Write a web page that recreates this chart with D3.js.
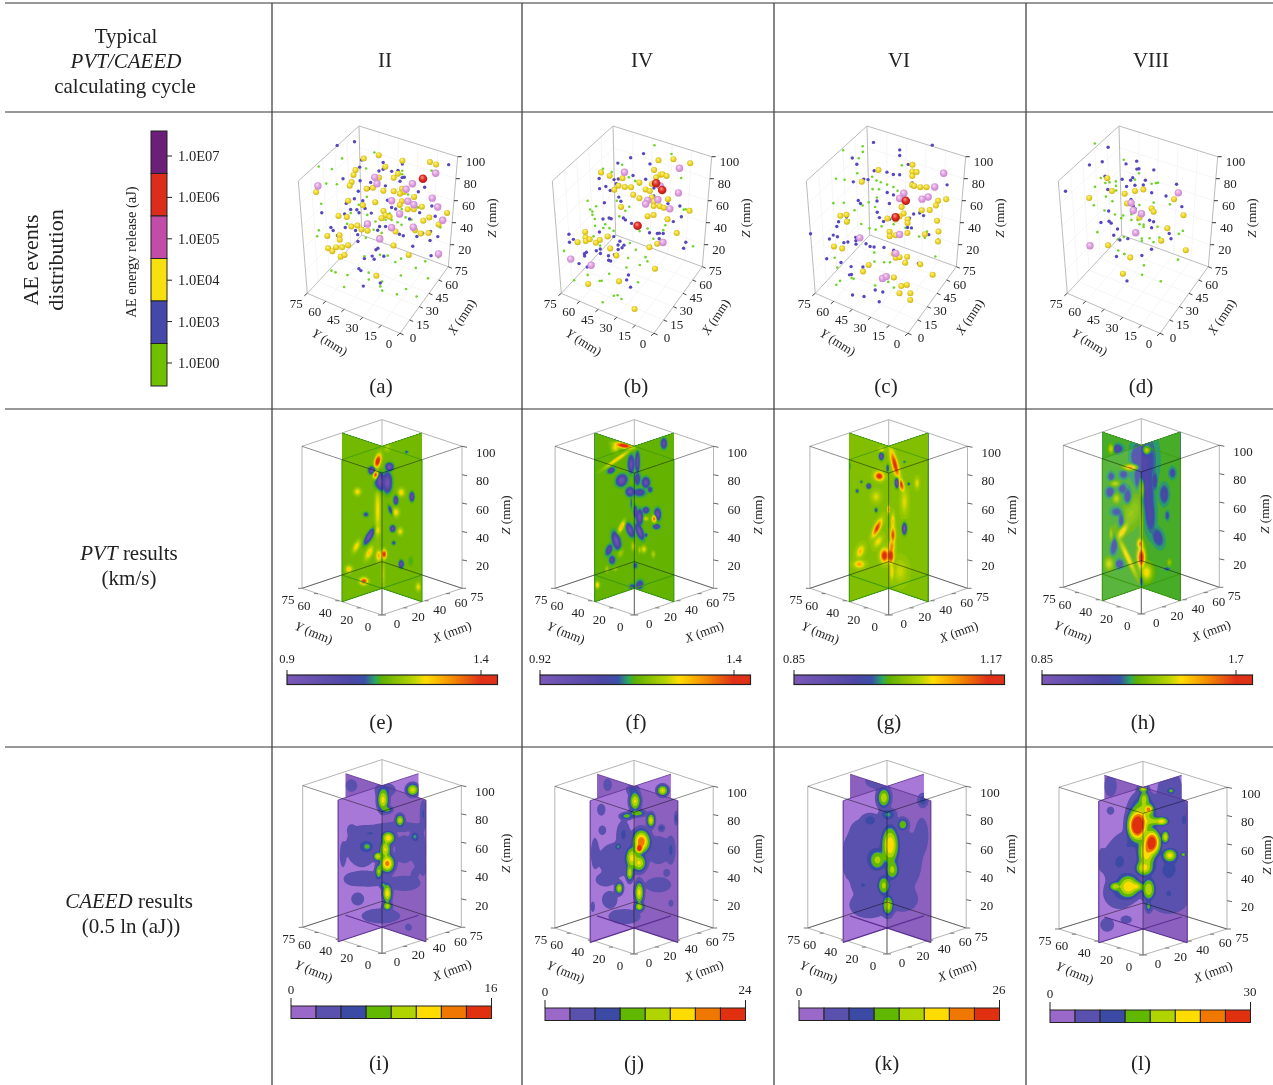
<!DOCTYPE html>
<html>
<head>
<meta charset="utf-8">
<script src="https://cdn.jsdelivr.net/npm/d3@7"></script>
<style>
body { margin: 0; background: #fff; }
svg { display: block; font-family: "Liberation Serif", serif; fill: #222; }
</style>
</head>
<body>
<svg id="chart" width="1273" height="1085"></svg>
<script>
// AE events as [x mm, z mm]. Depth can't be read from a projected picture,
// so every event is taken to sit on the diagonal plane y = 75 - x of the box.
const greenA = [[10,110],[21,114],[36,115],[16,106],[32,102],[63,91],[13,94],[18,92],[10,77],[28,71],[32,77],[24,65],[36,85],[44,64],[49,61],[49,95],[49,92],[52,73],[57,60],[7,49],[8,54],[13,17],[15,15],[21,11],[19,1],[30,25],[32,10],[32,4],[39,0],[38,-4],[39,-8],[47,-14],[49,2],[52,-11],[58,-20],[64,-6],[57,6],[69,11],[62,10],[49,17],[46,15],[38,24],[42,22],[41,54],[47,50],[49,47],[35,47],[39,43],[51,53],[54,50],[36,54],[32,61],[29,49],[22,56],[31,41],[43,59],[44,53],[64,28],[69,38]];
const blueA = [[19,126],[27,127],[71,94],[30,110],[40,105],[49,101],[29,104],[40,99],[38,98],[44,96],[47,96],[49,89],[50,89],[21,96],[29,92],[34,89],[36,92],[48,86],[41,84],[60,77],[57,74],[33,84],[28,83],[26,77],[30,74],[22,74],[31,67],[27,67],[28,64],[34,62],[42,71],[44,64],[24,68],[10,69],[21,65],[46,62],[53,51],[64,59],[66,49],[58,55],[38,49],[41,48],[37,46],[31,52],[14,55],[15,52],[21,53],[26,49],[27,45],[27,39],[17,47],[37,30],[36,29],[34,24],[35,21],[40,22],[48,39],[50,37],[57,34],[60,36],[68,30],[64,36],[64,28],[55,26],[65,14],[27,15],[28,13],[29,-1],[38,-1],[30,23]];
const yellowA = [[31,111],[38,112],[49,104],[62,99],[65,96],[41,101],[27,102],[26,98],[38,92],[45,90],[47,93],[25,92],[24,89],[8,88],[35,84],[32,84],[40,80],[45,78],[49,79],[50,76],[48,75],[23,76],[30,70],[36,71],[49,68],[48,65],[55,70],[59,60],[52,60],[55,59],[72,50],[40,62],[41,58],[18,64],[22,62],[39,56],[43,56],[63,49],[60,47],[68,41],[24,53],[27,53],[29,49],[32,47],[12,48],[18,47],[18,43],[22,37],[12,37],[14,34],[16,37],[19,36],[18,28],[20,29],[36,6],[45,30],[53,19],[59,36],[63,35],[56,40],[46,42],[38,39]];
const pinkA = [[9,93],[36,93],[37,87],[54,82],[65,88],[51,78],[64,66],[44,70],[52,67],[55,63],[67,57],[48,57],[70,44],[32,53],[44,46],[55,43],[38,38],[69,14]];
const redA = [[59,85]];

const greenB = [[48,118],[56,108],[33,105],[28,100],[24,104],[36,93],[39,89],[41,85],[61,85],[16,78],[17,70],[18,68],[20,72],[18,65],[19,61],[30,74],[36,67],[34,64],[31,60],[24,55],[23,52],[26,51],[28,48],[19,55],[54,45],[53,41],[41,44],[48,35],[45,45],[64,56],[63,56],[69,21],[3,37],[18,46],[21,37],[36,35],[39,28],[41,14],[35,22],[34,14],[25,11],[14,13],[20,6],[21,6],[7,10],[27,-9],[29,-9],[31,-13],[21,-13],[40,-1],[45,16],[44,20]];
const blueB = [[37,110],[43,112],[31,107],[46,102],[22,96],[29,93],[30,89],[31,93],[38,94],[25,88],[22,87],[27,84],[31,77],[32,73],[24,74],[44,89],[48,80],[48,73],[55,64],[61,60],[62,50],[58,47],[33,58],[34,56],[37,52],[46,41],[50,39],[51,39],[51,34],[53,38],[65,26],[64,21],[23,60],[26,60],[27,59],[21,49],[6,51],[8,46],[6,44],[13,32],[14,33],[10,24],[14,20],[19,33],[21,34],[25,27],[25,23],[26,22],[28,27],[31,38],[30,35],[30,31],[33,34],[32,32],[28,43],[34,3],[36,-4],[35,7],[13,30],[21,30]];
const yellowB = [[50,104],[57,103],[65,97],[48,96],[49,89],[51,91],[52,91],[54,89],[47,84],[23,101],[27,97],[33,93],[29,84],[31,87],[34,85],[37,84],[38,77],[41,73],[44,80],[46,78],[47,72],[48,68],[48,64],[51,63],[53,61],[55,68],[32,68],[45,56],[48,56],[55,50],[66,54],[60,36],[50,30],[46,28],[49,8],[14,51],[14,46],[14,43],[10,43],[16,44],[19,40],[21,42],[25,44],[26,33],[29,26],[14,5],[30,3],[38,-24],[41,87]];
const pinkB = [[34,98],[60,94],[60,72],[45,70],[44,67],[50,69],[56,59],[53,30],[6,29],[16,21],[51,81]];
const redB = [[49,84],[52,77],[40,49]];

const greenC = [[27,123],[18,122],[27,118],[25,113],[14,98],[18,96],[24,100],[31,95],[33,91],[35,89],[38,86],[41,83],[43,79],[45,101],[31,84],[34,83],[29,73],[17,76],[22,68],[12,77],[26,71],[32,68],[33,76],[19,60],[25,55],[29,50],[32,48],[35,50],[41,50],[47,45],[54,35],[58,38],[11,29],[12,20],[13,8],[11,5],[19,9],[20,8],[31,20],[36,18],[39,17],[31,28],[63,14],[31,-1],[41,-6],[57,33],[38,0],[64,29]];
const blueC = [[32,125],[59,115],[44,115],[44,110],[22,114],[24,108],[32,100],[48,101],[27,94],[29,93],[22,93],[38,97],[41,94],[44,93],[50,84],[67,77],[24,76],[25,73],[33,73],[38,79],[41,76],[39,69],[33,63],[34,58],[13,56],[18,63],[14,60],[0,53],[11,49],[13,47],[9,46],[16,41],[18,41],[22,44],[22,41],[22,38],[27,37],[29,34],[31,33],[36,31],[36,54],[39,55],[49,53],[51,56],[54,56],[56,53],[48,45],[50,44],[59,35],[7,29],[14,24],[19,19],[19,12],[25,17],[18,12],[31,-5],[35,-8],[19,-6],[25,-9],[33,-16],[54,11],[41,27]];
const yellowC = [[50,100],[50,94],[52,93],[50,90],[34,100],[26,92],[50,82],[51,81],[54,79],[57,78],[63,64],[62,60],[67,64],[15,65],[18,65],[18,59],[11,39],[15,36],[45,64],[46,58],[55,58],[59,57],[44,56],[42,54],[38,56],[48,52],[48,49],[63,46],[64,36],[39,44],[39,40],[42,40],[48,40],[57,36],[64,27],[41,24],[42,20],[44,20],[48,19],[47,14],[55,10],[28,18],[25,13],[41,3],[45,-6],[48,-6],[50,-14],[44,-12],[50,-20],[62,-2]];
const pinkC = [[65,88],[61,77],[58,69],[55,68],[46,76],[44,72],[24,43],[44,40],[42,24],[35,4],[37,5]];
const redC = [[47,69],[42,56]];

const greenD = [[18,128],[31,110],[38,96],[20,97],[17,90],[22,92],[24,92],[27,92],[27,88],[27,84],[36,91],[46,85],[44,85],[47,85],[22,80],[25,75],[16,74],[21,68],[26,63],[30,61],[29,59],[34,61],[34,56],[37,55],[38,51],[40,50],[47,46],[17,50],[27,41],[30,42],[39,38],[39,36],[43,37],[45,33],[58,36],[60,38],[48,36],[27,31],[30,27],[30,27],[58,13],[40,14],[39,6],[49,-3],[53,64],[45,68],[38,68],[40,48]];
const blueD = [[24,123],[15,110],[21,111],[22,98],[3,90],[32,106],[37,107],[37,100],[38,100],[45,97],[35,93],[34,91],[30,93],[41,89],[36,86],[40,85],[56,81],[23,86],[32,86],[44,77],[51,72],[59,60],[34,74],[35,68],[36,65],[23,67],[19,58],[23,58],[24,56],[27,50],[43,53],[45,51],[44,46],[53,38],[54,33],[25,45],[28,40],[32,40],[26,26],[39,23],[44,27],[31,3]];
const yellowD = [[23,96],[25,84],[31,80],[36,81],[40,81],[14,81],[55,68],[32,71],[44,63],[45,60],[38,57],[60,52],[52,43],[49,33],[62,20],[22,37],[33,23],[29,10]];
const pinkD = [[57,73],[34,71],[35,64],[39,60],[36,44],[13,39]];
const redD = [];

// hot spots read off the sliced planes: [across mm, z mm, half width, half height, level, tilt deg]
// PVT levels are offsets from the plane's background on the colour bar
const blobsE = [[35.5,89.5,1,3.8,.55,-15],[34.5,80,.9,2.4,.5],[33,83,1.3,2,-.45],[41,85.5,1.3,2,-.45],[36.5,75,1.6,4.5,-.45],[40,74.5,1.5,5,-.45],[26,68,1.2,2,.2],[35.5,55,1,14,.18],[46.5,67.5,1.2,2.2,.2],[44,62,.8,2.4,-.35],[51.5,64.5,.8,2.4,-.4],[41.5,55,.7,3,-.2,20],[44,53.5,1.2,2.4,.2],[30,52,1,1.4,-.18],[42.5,42,.9,1.7,-.4],[46,40,1,2,.18],[35.5,41,1,3,.18],[31.5,36.5,1,4.5,-.42,-30],[25.5,29.5,1,3.5,.2,-25],[31.5,25,1.1,4,.22,-25],[36,23,1,3,.26],[38.5,24,.8,2.4,.5],[46.5,17,.8,2,-.4],[22,13.5,1.2,1.9,.22],[29,5,1.4,1.8,.45],[54.5,1,.9,2.2,.18],[43,32,.7,1.2,-.2],[51,19,.9,3,-.06],[40,99,1,2,.12],[49,96,.6,.8,-.2],[38,10,.7,8,.1]];
const blobsF = [[32.5,100.5,3.4,1.4,.55,-10],[28.5,99,1.5,2.5,.2],[29.5,91,6,1,.25,35],[51.5,102,.9,2.4,-.35],[36,87.5,1,4.2,-.35],[39,89,.7,5,-.35],[26.5,83,1.3,1.4,-.25,30],[31.5,76,1.6,2.8,-.42,-30],[35.5,68,1.3,2.1,-.38],[40,67.5,2,2,-.2],[43,74.5,1.2,2.4,-.38],[45,69.5,.8,1.4,-.22],[39,77,1,3.3,-.2],[36,60,.3,3.5,-.12],[38,54,.5,2.8,-.35],[40,50,1,3.5,-.42],[43,55,1.1,1.6,-.25],[48.5,52,1,2.8,-.42],[47,49,.8,1.9,.45],[48,43.5,1.1,1.2,-.3],[43,49,.9,1.2,.18],[31.5,43.5,.8,3.8,.28,-25],[35.5,41,1,3.3,-.4,20],[40,40,1,3.8,-.42,20],[43,37.5,.5,1,-.2],[29,33.5,1.2,4.2,-.42,15],[25.5,27,1,2.8,-.25,-20],[31,25,1,2.4,.12,-20],[27,20,1,2,-.25],[37,29.5,.7,2.4,.15],[40,27,.5,1.9,.15],[42,27.5,1,2,.2],[46.5,24,.7,2,.14],[20,2.4,.8,1.9,.24],[40,2.4,1.2,2.4,-.22,-20],[36.5,1,1,1.4,-.18],[38,16,.6,1.4,-.2],[24.5,13.5,.6,2,.12],[28.5,13.5,1,1,.1]];
const blobsG = [[40.5,87,1,8,.45,15],[43.5,73,.8,3.5,.45,15],[34,93,.8,2,-.5],[34,97.5,1,1.2,.18],[33,79,1.6,2.1,.48,-20],[41.5,74.5,.8,2.8,-.5],[28,72,.8,1.4,-.45],[22.5,68.5,.6,1.2,-.25],[24.5,75,.5,1,-.2],[37,84.5,.4,2,-.4],[45,89,.6,.7,-.2],[47,73.5,.6,1,-.22],[51,74,.8,2.8,.14],[31.5,55,.6,1.4,-.25],[37.5,55.5,.3,2,.4],[45,42,.8,3,-.5],[32,42.5,1,5,.42,-25],[39.5,47,.6,4.2,.22],[39.5,37.5,.8,4.7,.4],[39,29.5,1,3.5,.3],[35.5,23,1.4,3.5,.5],[38.5,23,1.1,4.2,.5],[39,12,.6,4.7,.2],[24,26,1.3,3.5,.2,-20],[23.5,17,1.9,2,.24],[32.5,33,1.3,3.5,.15,-30],[45,61,1.3,7,.12],[31.5,64.5,1.6,2.8,.12],[43,12,2.4,6,.1],[19,86,.3,1.9,-.2]];
const blobsH = [[39,89.5,3.5,11.8,-.17],[40,70.5,2.2,16.5,-.18,5],[41.5,53,1.6,9.4,-.17,5],[32.5,84.5,2.5,1.4,.35],[34.5,92,1.3,4.7,-.14],[26,97.5,1.6,2,-.18],[23,97.5,1,2.4,.2],[40,96.5,1.3,2.4,.3],[23,78,1,2,-.12],[29,79.5,1.3,2,-.12],[35.5,77.5,.8,5.9,-.12],[28.5,69.5,1.3,2.4,-.12],[22.5,67,1.3,2.4,-.15],[31,63.5,1.3,4.2,-.14],[26,53,2,2.4,-.11],[28,47,1.3,5.2,-.15],[25.5,62.5,1.3,2.4,.18],[25,73,1.6,1.4,.18],[38,69.5,1,5.9,.2],[48.5,65.5,1.3,4.2,-.17],[44,75,.8,4.2,-.15],[52.5,80.5,1,2.4,-.13],[50,50.5,.6,2,-.13],[45.5,35,1.6,4.2,-.15,15],[28.5,39.5,1.3,5.2,.3,-30],[32.5,52,4,11.8,.1,-30],[24.5,29.5,1,4.7,-.15,-10],[23,37.5,.6,3.3,.15],[22,16.5,1.6,3.3,.2],[27,16.5,1.3,2,-.14],[31,21,1,11.8,.26,25],[37.5,21,1.4,5.9,.55],[37,30.5,1.1,2.8,.4],[37.5,42.5,.5,14,.15],[40,10.5,2.2,4.7,.25],[37.5,4.7,.5,2.8,-.15],[51,17.5,.8,2,.12],[50,13,.8,.7,-.12]];
const blobsI = [[38,90,2,6,.62],[40,83,2,2,.4],[46,75.5,1.6,3.3,.55],[52,97,2.2,3.3,.6],[40.5,63,2.4,3.5,.65],[39,55,2,5,.6],[35.5,50,1.6,2.4,.6],[40,45,2.5,4.7,.75],[36,39.5,1.3,4.2,.5],[38,30,1.3,2.4,.35],[40,24,1.6,5,.65],[40,15,1.6,2.4,.55],[37,8,6,3.5,.22],[30.5,57,2.5,3.3,.35],[28,57,5,9.5,.22],[33,66.5,5,2.5,.22],[23,69,1.3,2.4,.2],[19,51,1,6,.2],[24,34,3,3,.2],[26,20,2,3,.22],[31,34,6,3.5,.22],[48,31,5,3.5,.22],[53,64,1.6,3,.35],[48,55,3,7,.2],[45,71,8,2.4,.2],[57,80,1,6,.25],[55,55,2.2,9.5,.22],[23,100,2.2,3.5,.18],[39,97,3,3,.25],[50,0,1.3,2,.18],[53,38,1.3,2.4,.18],[57,41,1,3.5,.18]];
const blobsJ = [[38,89.5,2,5,.6],[39,81,3,2,.45],[34,79,2.5,2,.4],[45.5,76,1.4,3.8,.6],[51,97,2,3,.6],[41,61,3,6,.8],[40,56,1.3,2.4,.98],[36.5,49.5,2.2,6,.62],[40,46,2.5,4.7,.6],[35.5,39,1.3,4.7,.55],[40,25,1.6,6,.62],[40,15,1.6,2.4,.55],[30.5,28,1.4,3.3,.55],[30,57.5,1.3,2,.35],[32.5,66,2,6,.25],[29,48,5.5,8,.22],[24,34,3,3,.22],[26,20,2.4,4,.22],[33,8,5,3.5,.22],[22,83.5,1.4,3,.2],[22.5,69,1.3,2.4,.2],[19,53,1.2,7,.22],[49,30.5,4,3.5,.22],[49,55,4,7,.2],[55,55,1.3,6,.25],[50.5,70.5,1.3,2,.3],[57.5,77.5,.8,4,.3],[25,101,1.6,3.5,.18],[37,97.5,2.4,3,.3],[55,17.5,1,2,.18],[53,39,1.3,2,.18],[18,15,.8,3,.18]];
const blobsK = [[36,92,2.4,5.5,.55],[38,80,3,3.5,.35],[29.5,76,3,3.5,.3],[45,73,2,3.5,.45],[39,58.5,3,10,.68],[33,48,3,5.5,.5],[40,41,2.4,5.5,.5],[36,30,2.4,5.5,.5],[38,16,2,5.5,.55],[29,51.5,8,17,.22],[47,48,5,14,.2],[54,65.5,2,8,.22],[29,16,6,6,.22],[45,20,5,6,.2],[54.5,90,2,4,.3],[24,69,2,3.5,.2],[26,30,3,4,.22],[19,48,1.4,7,.2],[33,104,3.5,3.5,.25]];
const blobsL = [[35,73,3,7.5,1.1],[37.5,80,4.5,10.6,.55],[40,84.5,1.5,2.4,.75],[46,76,2.2,2.4,.6],[42.5,76,4.5,2.4,.5],[41.5,61,2.7,6.6,.98],[39,54,3,9.5,.65],[38,43,3,4.3,.6],[47.5,65,1.3,3.5,.6],[49.5,52,2.4,3.5,.62],[55.5,52.5,.8,1.2,.5],[50,97.5,1.2,1.4,.4],[37.5,99,1.8,2,.55],[38,92,1.8,4.7,.5],[31,30,3.7,6,.68],[25,30,2,2.4,.55],[35,30,2.2,2.8,.55],[40,28,2.2,6,.58],[40,16,1.2,3.5,.38],[27,47,5,9.5,.24],[27,25.5,4.5,7,.24],[49,42,7.5,12,.24],[49,23,6,8,.22],[54,70,3,14,.22],[31.5,60,4.5,6,.22],[49.5,96,3.7,10.6,.22],[23,101,2.2,6,.18],[23,83.5,1.2,2,.2],[19,49,1,4.7,.22],[21.5,3,2.2,3.5,.2],[30,6.6,1.8,2,.2],[56,77.5,.9,3.5,.24]];

const pvtBase = [.49, .46, .52, .43];

const columns = ["II", "IV", "VI", "VIII"];
const panelLetters = ["a","b","c","d","e","f","g","h","i","j","k","l"];
const aeLabels = ["1.0E07","1.0E06","1.0E05","1.0E04","1.0E03","1.0E00"];
const aeBands = ["#6b1f78","#dc2c1c","#c24da8","#f8e010","#4448a8","#70c000"];
const xyTicksAe = [0,15,30,45,60,75];
const xyTicksSlice = [0,20,40,60,75];
const zTicks = [20,40,60,80,100];
const pvtMin = ["0.9","0.92","0.85","0.85"];
const pvtMax = ["1.4","1.4","1.17","1.7"];
const caeedMax = ["16","24","26","30"];
const pvtStops = [0,.3,.37,.42,.45,.6,.66,.78,.92,1];
const pvtColors = ["#7b58b8","#4c46a5","#3a50a8","#2aa860","#5cb000","#b8d400","#ffdd00","#f59000","#e03018","#e03018"];
const caeedColors = ["#9a68c8","#5a50ad","#3a4aa5","#60b800","#b0d400","#ffdc00","#f07800","#e03010"];
const caeedLevels = [.125,.25,.345,.375,.5,.625,.75,.875];
const caeedFills = ["#5a50ad","#3a4aa5","#2a8ea0","#60b800","#b0d400","#ffdc00","#f07800","#e03010"];

// layout
const svg = d3.select("#chart");
const defs = svg.append("defs");
const colX = [272, 522, 774, 1026];
const rowY = [3, 112, 409, 747];
const aeDx = [0, 254, 508, 760];
const aeCorners = { F:[400,333.3], R:[448.3,266.7], L:[307.3,293.3], B:[361.7,235], Ft:[396.5,212], Rt:[457.7,156.7], Lt:[298.3,181], Bt:[359,126] };
const pvtFx = [382, 634.3, 888.7, 1141.3], pvtFy = [615, 615, 615, 614], pvtHalf = [80, 79.2, 78.8, 78];
const caeedFx = [382, 634, 887, 1143], caeedFy = [953.3, 954, 954, 955], caeedHalf = [79.3, 79.2, 79.2, 84];
const planeEnds = [[0,75],[0,75],[0,75],[0,75]];
const caeedEnds = [[-4,72],[-4,72.5],[-4,72.5],[-2,72]];

// box position as a blend of its eight corners
const sx = d3.scaleLinear().domain([0,75]).range([0,1]);
const sz = d3.scaleLinear().domain([0,100]).range([0,1]);
function project(c, x, y, z) {
    const t = sx(x), s = sx(y), h = sz(z);
    const mix = i =>
        (1-h)*((1-t)*(1-s)*c.F[i] + t*(1-s)*c.R[i] + (1-t)*s*c.L[i] + t*s*c.B[i]) +
        h*((1-t)*(1-s)*c.Ft[i] + t*(1-s)*c.Rt[i] + (1-t)*s*c.Lt[i] + t*s*c.Bt[i]);
    return [mix(0), mix(1)];
}
const shifted = (c, dx) => Object.fromEntries(Object.entries(c).map(([k,v]) => [k, [v[0]+dx, v[1]]]));
function sliceBox(fx, fy, half, vy, up) {
    return { F:[fx,fy], R:[fx+half,fy-vy], L:[fx-half,fy-vy], B:[fx,fy-2*vy],
             Ft:[fx,fy-up], Rt:[fx+half,fy-vy-up], Lt:[fx-half,fy-vy-up], Bt:[fx,fy-2*vy-up] };
}
const line = d3.line();

function edge(g, a, b, stroke, w, blend) {
    const p = g.append("path").attr("d", line([a,b])).attr("fill","none")
        .attr("stroke", stroke).attr("stroke-width", w || 1);
    if (blend) p.style("mix-blend-mode","multiply");
    return p;
}
function txt(g, x, y, s, size, anchor) {
    return g.append("text").attr("x",x).attr("y",y).attr("font-size",size)
        .attr("text-anchor",anchor || "middle").attr("dy",".35em").text(s);
}
function mmLabel(g, x, y, letter, rot, size) {
    const t = g.append("text").attr("transform",`translate(${x},${y}) rotate(${rot})`)
        .attr("font-size",size || 13).attr("text-anchor","middle").attr("dy",".35em");
    t.append("tspan").attr("font-style","italic").text(letter);
    t.append("tspan").text(" (mm)");
}

// table
rowY.forEach(y => edge(svg, [5,y], [1273,y], "#333", 1.2));
colX.forEach(x => edge(svg, [x,3], [x,1085], "#444", 1.3));

const head = svg.append("g");
txt(head, 126, 36, "Typical", 21);
txt(head, 126, 61, "PVT/CAEED", 21).attr("font-style","italic");
txt(head, 125, 86, "calculating cycle", 21);
[385, 642, 899, 1151].forEach((x,i) => txt(head, x, 60, columns[i], 21));
[[30,"AE events"],[55,"distribution"]].forEach(([x,s]) =>
    head.append("text").attr("transform",`translate(${x},260) rotate(-90)`).attr("font-size",22)
        .attr("text-anchor","middle").attr("dy",".35em").text(s));
const rowTitle = (y, it, rest) => {
    const t = txt(head, 129, y, "", 21);
    t.append("tspan").attr("font-style","italic").text(it);
    t.append("tspan").text(rest);
};
rowTitle(553, "PVT", " results");
txt(head, 129, 578, "(km/s)", 21);
rowTitle(901, "CAEED", " results");
txt(head, 131, 926, "(0.5 ln (aJ))", 21);

const labelX = [381,636,886,1141,381,636,889,1143,379,634,887,1141];
const labelY = [386,722,1063];
panelLetters.forEach((l,i) => txt(head, labelX[i], labelY[Math.floor(i/4)], `(${l})`, 21));

// AE energy legend
const aeScale = d3.scaleBand().domain(aeLabels).range([131,386]);
const aeTick = d3.scalePoint().domain(aeLabels).range([156,363]);
const leg = svg.append("g");
leg.selectAll("rect").data(aeLabels).enter().append("rect")
    .attr("x",151).attr("y",d => aeScale(d)).attr("width",16).attr("height",aeScale.bandwidth())
    .attr("fill",(d,i) => aeBands[i]).attr("stroke","#222").attr("stroke-width",1);
aeLabels.forEach(d => {
    const y = aeTick(d);
    edge(leg, [167,y], [172,y], "#222", 1);
    txt(leg, 178, y, d, 14.5, "start");
});
leg.append("text").attr("transform","translate(131,252) rotate(-90)").attr("font-size",14.5)
    .attr("text-anchor","middle").attr("dy",".35em").text("AE energy release (aJ)");

// sphere fills for the larger events
function sphere(id, hi, mid, lo) {
    const g = defs.append("radialGradient").attr("id",id).attr("cx","50%").attr("cy","50%").attr("r","60%").attr("fx","38%").attr("fy","30%");
    g.append("stop").attr("offset","0%").attr("stop-color",hi);
    g.append("stop").attr("offset","50%").attr("stop-color",mid);
    g.append("stop").attr("offset","100%").attr("stop-color",lo);
}
sphere("ballYellow","#fff48a","#efd828","#bda414");
sphere("ballPink","#f8def6","#e0a0e0","#c07cc4");
sphere("ballRed","#ff9a8a","#de2a22","#9f1a14");

const aeClasses = [
    { r:1.3, fill:"#70d428", sets:[greenA,greenB,greenC,greenD] },
    { r:1.7, fill:"#5547bc", sets:[blueA,blueB,blueC,blueD] },
    { r:3, fill:"url(#ballYellow)", sets:[yellowA,yellowB,yellowC,yellowD] },
    { r:3.7, fill:"url(#ballPink)", sets:[pinkA,pinkB,pinkC,pinkD] },
    { r:4.3, fill:"url(#ballRed)", sets:[redA,redB,redC,redD] }
];

aeDx.forEach((dx, i) => {
    const c = shifted(aeCorners, dx);
    const g = svg.append("g");
    const grid = "#f6f6f6", frame = "#bcbcbc";
    xyTicksAe.slice(1,-1).forEach(v => {
        edge(g, project(c,v,0,0), project(c,v,75,0), grid);
        edge(g, project(c,0,v,0), project(c,75,v,0), grid);
        edge(g, project(c,75,v,0), project(c,75,v,100), grid);
        edge(g, project(c,v,75,0), project(c,v,75,100), grid);
    });
    zTicks.slice(0,-1).forEach(v => {
        edge(g, project(c,0,75,v), project(c,75,75,v), grid);
        edge(g, project(c,75,75,v), project(c,75,0,v), grid);
    });
    [["L","Lt"],["R","Rt"],["B","Bt"],["Lt","Bt"],["Rt","Bt"],["L","B"],["R","B"],["L","F"],["F","R"]]
        .forEach(([a,b]) => edge(g, c[a], c[b], frame));
    aeClasses.forEach(cl => {
        g.append("g").selectAll("circle").data(cl.sets[i]).enter().append("circle")
            .attr("cx", d => project(c, d[0], 75-d[0], d[1])[0])
            .attr("cy", d => project(c, d[0], 75-d[0], d[1])[1])
            .attr("r", cl.r).attr("fill", cl.fill);
    });
    zTicks.forEach(v => {
        const p = project(c,75,0,v);
        edge(g, p, [p[0]+4,p[1]], "#333");
        txt(g, p[0]+8, p[1]+4.5, v, 13, "start");
    });
    xyTicksAe.forEach(v => {
        const px = project(c,v,0,0), py = project(c,0,v,0);
        edge(g, px, [px[0]+3.5,px[1]+1.5], "#444");
        edge(g, py, [py[0]-3,py[1]+2.5], "#444");
        txt(g, px[0]+13, px[1]+4, v, 13);
        txt(g, py[0]-11, py[1]+10.5, v, 13);
    });
    mmLabel(g, 461.7+dx, 316.7, "X", -56);
    mmLabel(g, 330+dx, 342, "Y", 32);
    mmLabel(g, 491+dx, 218, "Z", -90);
});

// sliced plane panels
const nx = 150, ny = 210;
const gridU = d3.scaleLinear().domain([0,nx]).range([-5,80]);
const gridZ = d3.scaleLinear().domain([0,ny]).range([120,-20]);
// the half sizes are what shows at the colour edge, the falloff needs more reach
function spread(kind, lvl) {
    if (kind === "pvt") return 1.2;
    return lvl < .3 ? 1.9 : 1.4;
}
// overlapping spots merge without piling up past their own peak
function sampleField(blobs, base, pu, pz, kind) {
    const pos = new Float64Array(nx*ny), neg = new Float64Array(nx*ny);
    blobs.forEach(([u0,z0,ru,rz,lvl,tilt]) => {
        const a = (tilt||0)*Math.PI/180, co = Math.cos(a), si = Math.sin(a);
        const k = spread(kind, lvl);
        const rx = ru*pu*k, ry = rz*pz*k;
        const reach = 4*Math.max(rx,ry);
        const target = lvl > 0 ? pos : neg;
        for (let j=0;j<ny;j++) for (let i=0;i<nx;i++) {
            const dx = (gridU(i+.5)-u0)*pu, dy = (gridZ(j+.5)-z0)*pz;
            if (Math.abs(dx) > reach || Math.abs(dy) > reach) continue;
            const p = (dx*co+dy*si)/rx, q = (-dx*si+dy*co)/ry;
            target[j*nx+i] += (Math.abs(lvl)*Math.exp(-(p*p+q*q)))**3;
        }
    });
    const gain = kind === "pvt" ? 1 : 1.08;
    return Float64Array.from(pos, (v,n) => base + gain*Math.cbrt(v) - Math.cbrt(neg[n]));
}
const pvtColor = d3.scaleLinear().domain(pvtStops).range(pvtColors).clamp(true);
const pvtLevels = d3.range(0, 1.05, .025);

function slicePanel(id, box, fx, fy, half, ends, blobs, base, levels, fills, kind) {
    const g = svg.append("g");
    const frame = "#b4b4b4";
    // behind the planes
    [["L","Lt"],["R","Rt"],["B","Bt"],["L","B"],["R","B"]].forEach(([a,b]) => edge(g, box[a], box[b], frame));
    [["Lt","Bt"],["Rt","Bt"],["L","F"],["F","R"]].forEach(([a,b]) => edge(g, box[a], box[b], frame));
    edge(g, box.F, box.Ft, frame);

    const quad = (fn, a, b) => [fn(a,0), fn(b,0), fn(b,100), fn(a,100)];
    const p1 = (v,z) => project(box,37.5,v,z), p2 = (v,z) => project(box,v,37.5,z);
    const fillPlane = (pts, fill) => g.append("polygon").attr("points", pts.join(" ")).attr("fill", fill);
    const dark = kind === "pvt" ? pvtColor(base) : "#8c60bf";
    const light = kind === "pvt" ? pvtColor(base) : "#a878d8";
    fillPlane(quad(p1,37.5,ends[1]), dark);
    fillPlane(quad(p2,37.5,ends[1]), light);
    fillPlane(quad(p1,ends[0],37.5), dark);
    fillPlane(quad(p2,ends[0],37.5), light);

    const clip = defs.append("clipPath").attr("id",id);
    [quad(p1,ends[0],ends[1]), quad(p2,ends[0],ends[1])].forEach(pts =>
        clip.append("polygon").attr("points", pts.join(" ")));

    const up = box.F[1]-box.Ft[1];
    const pu = half/37.5, pz = up/100;
    const midY = box.F[1]-(box.F[1]-box.B[1])/2;
    const ux = d3.scaleLinear().domain([0,75]).range([fx-half,fx+half]);
    const zy = d3.scaleLinear().domain([0,100]).range([midY,midY-up]);
    const field = sampleField(blobs, base, pu, pz, kind);
    const path = d3.geoPath(d3.geoTransform({ point(x,y) { this.stream.point(ux(gridU(x)), zy(gridZ(y))); } }));
    const cg = g.append("g").attr("clip-path",`url(#${id})`);
    cg.selectAll("path").data(d3.contours().size([nx,ny]).thresholds(levels)(field))
        .enter().append("path").attr("d", path)
        .attr("fill", (d,i) => fills(i, d.value));
    if (kind === "pvt" && base < .45) fillPlane(quad(p2,ends[0],37.5), "rgba(255,255,255,.1)");

    const rim = kind === "pvt" ? "#3f9a10" : "#5a3090";
    [p1,p2].forEach(fn => {
        edge(g, fn(ends[0],0), fn(ends[0],100), rim, 1.1);
        edge(g, fn(ends[0],0), fn(ends[1],0), rim, 1.1);
        edge(g, fn(ends[0],100), fn(ends[1],100), rim, .8);
    });
    // lines seen through the planes
    [["Lt","Ft"],["Rt","Ft"],["L","B"],["R","B"],["F","Ft"]].forEach(([a,b]) => edge(g, box[a], box[b], "#8d8d8d", 1, true));

    zTicks.forEach(v => {
        const p = project(box,75,0,v);
        edge(g, p, [p[0]+5,p[1]+1], "#666");
        txt(g, p[0]+14, p[1]+6, v, 13, "start");
    });
    xyTicksSlice.forEach(v => {
        const px = project(box,v,0,0), py = project(box,0,v,0);
        edge(g, px, [px[0]+4,px[1]], "#777");
        edge(g, py, [py[0]-4,py[1]], "#777");
        txt(g, px[0]+15, px[1]+8.5, v, 13);
        txt(g, py[0]-14, py[1]+11.5, v, 13);
    });
    mmLabel(g, fx+70, fy+16.5, "X", -20);
    mmLabel(g, fx-68, fy+17.5, "Y", 22);
    mmLabel(g, fx+123, fy-100, "Z", -90);
}

const pvtGrad = defs.append("linearGradient").attr("id","pvtBar");
pvtStops.forEach((s,i) => pvtGrad.append("stop").attr("offset",s).attr("stop-color",pvtColors[i]));

const blobsPvt = [blobsE, blobsF, blobsG, blobsH];
const blobsCaeed = [blobsI, blobsJ, blobsK, blobsL];
const pvtBarX = [287, 540, 794, 1042];
const pvtMaxX = [481, 734, 991, 1236];
const caeedBarX = [291, 545, 799, 1050];
const caeedBarY = [1006, 1008, 1008, 1010];

columns.forEach((col, i) => {
    const b = sliceBox(pvtFx[i], pvtFy[i], pvtHalf[i], 26.7, 142);
    slicePanel("pvt"+i, b, pvtFx[i], pvtFy[i], pvtHalf[i], planeEnds[i], blobsPvt[i], pvtBase[i],
        pvtLevels, (k,v) => pvtColor(v + .0125), "pvt");
    const c = sliceBox(caeedFx[i], caeedFy[i], caeedHalf[i], 26, 141.7);
    slicePanel("caeed"+i, c, caeedFx[i], caeedFy[i], caeedHalf[i], caeedEnds[i], blobsCaeed[i], 0,
        caeedLevels, k => caeedFills[k], "caeed");

    // PVT colour bar
    const bar = svg.append("g");
    const x0 = pvtBarX[i];
    bar.append("rect").attr("x",x0).attr("y",675).attr("width",210.5).attr("height",9.5)
        .attr("fill","url(#pvtBar)").attr("stroke","#222").attr("stroke-width",1.2);
    edge(bar, [x0,670], [x0,675], "#222");
    edge(bar, [pvtMaxX[i],670], [pvtMaxX[i],675], "#222");
    txt(bar, x0, 659, pvtMin[i], 12.5);
    txt(bar, pvtMaxX[i], 659, pvtMax[i], 12.5);

    // CAEED colour bar
    const top = caeedBarY[i];
    const cx0 = caeedBarX[i];
    const cb = d3.scaleBand().domain(d3.range(caeedColors.length)).range([cx0,cx0+200.5]);
    bar.selectAll("rect.sw").data(caeedColors).enter().append("rect").attr("class","sw")
        .attr("x",(d,k) => cb(k)).attr("y",top).attr("width",cb.bandwidth()).attr("height",12.5)
        .attr("fill",d => d).attr("stroke","#222").attr("stroke-width",1);
    edge(bar, [cx0,top-8], [cx0,top], "#222");
    edge(bar, [cx0+200.5,top-8], [cx0+200.5,top], "#222");
    txt(bar, cx0, top-17, "0", 13);
    txt(bar, cx0+200, top-19, caeedMax[i], 13);
});
</script>
</body>
</html>
